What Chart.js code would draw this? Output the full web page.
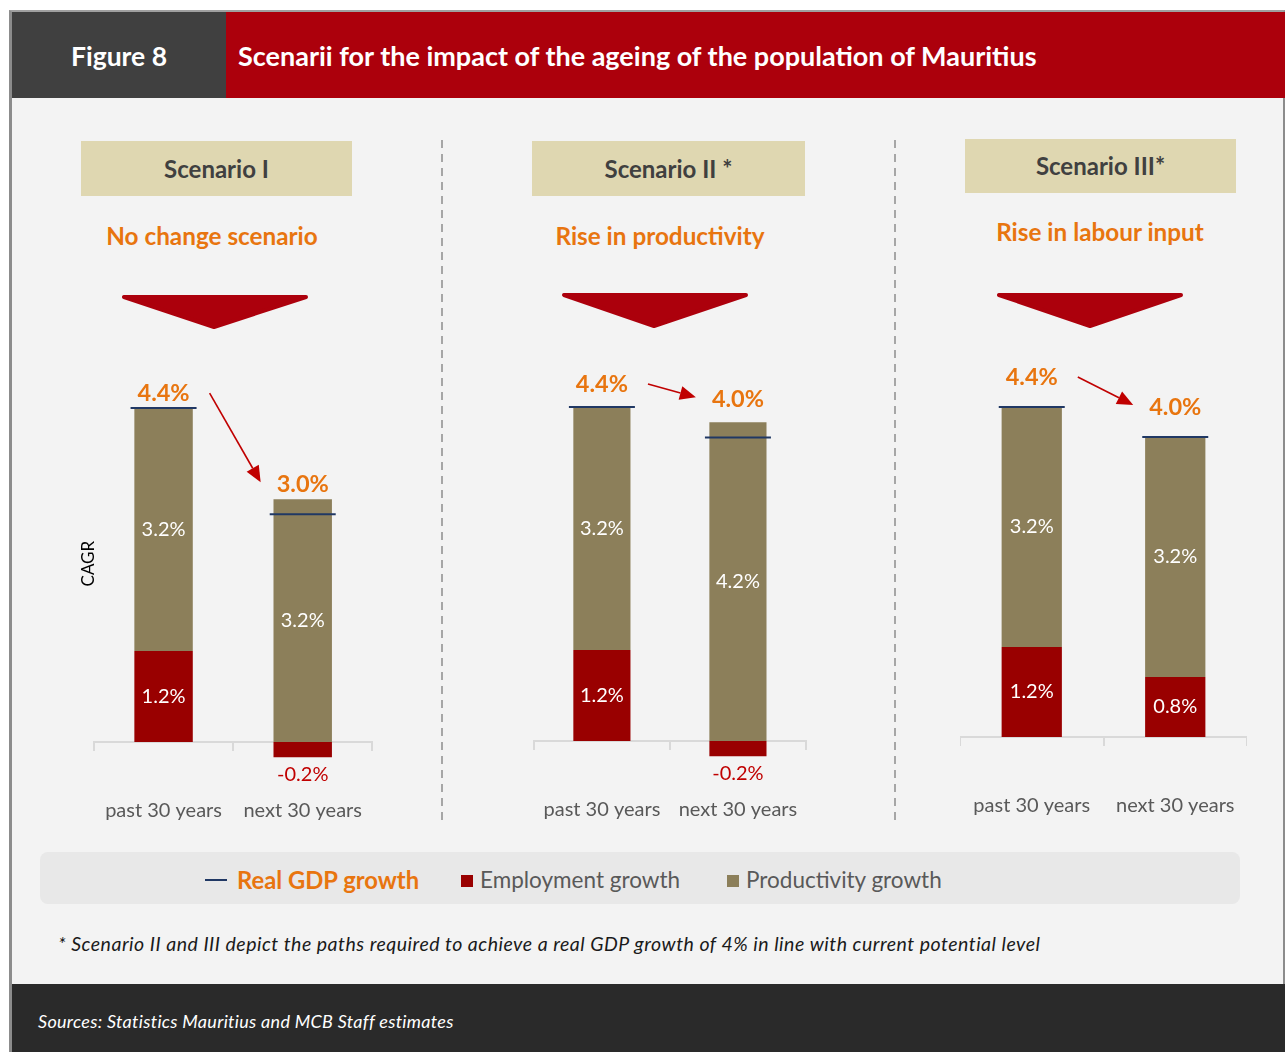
<!DOCTYPE html>
<html>
<head>
<meta charset="utf-8">
<script src="https://cdn.jsdelivr.net/npm/chart.js@4.4.0/dist/chart.umd.min.js"></script>
<style>
  body { margin: 0; background: #fff; font-family: Lato, "Open Sans", sans-serif; }
  .abs { position: absolute; }
  #frame { left: 9px; top: 10px; width: 1276px; height: 1042px; background: #f3f3f3;
    border-left: 3px solid #8c8c8c; border-top: 2px solid #a0a0a0; border-right: 2px solid #8c8c8c; box-sizing: border-box; }
  #figNo { left: 12px; top: 12px; width: 214px; height: 86px; background: #404040; color: #fff;
    font-weight: bold; font-size: 26.5px; line-height: 88px; text-align: center; }
  #figTitle { left: 226px; top: 12px; width: 1059px; height: 86px; background: #ac000c; color: #fff;
    font-weight: bold; font-size: 27px; line-height: 88px; padding-left: 12px; box-sizing: border-box; white-space: nowrap; }
  .scBox { background: #dfd7b1; color: #404040; font-weight: bold; font-size: 24px; text-align: center; }
  .scSub { color: #e8750f; font-weight: bold; font-size: 24.3px; text-align: center; width: 400px; }
  .chartBox { top: 330px; height: 510px; }
  #legend { left: 40px; top: 852px; width: 1200px; height: 52px; background: #e8e8e8; border-radius: 8px; }
  .lg { position: absolute; top: 0; line-height: 56px; white-space: nowrap; }
  #note { left: 58px; top: 932px; font-style: italic; font-size: 19.5px; letter-spacing: 0.5px; color: #1a1a1a; white-space: nowrap; }
  #footer { left: 12px; top: 984px; width: 1273px; height: 68px; background: #2a2a2a; }
  #source { position: absolute; left: 26px; top: 0; line-height: 74px; color: #fff; font-style: italic; font-size: 18px; letter-spacing: 0.3px; white-space: nowrap; }
</style>
</head>
<body>
<div id="frame" class="abs"></div>
<div id="figNo" class="abs">Figure 8</div>
<div id="figTitle" class="abs">Scenarii for the impact of the ageing of the population of Mauritius</div>

<svg class="abs" style="left:0;top:0" width="1285" height="1052">
  <g stroke="#a6a6a6" stroke-width="2" stroke-dasharray="8 6">
    <line x1="442" y1="140" x2="442" y2="822"/>
    <line x1="895" y1="140" x2="895" y2="822"/>
  </g>
  <g fill="#ac000c" stroke="#ac000c" stroke-width="4" stroke-linejoin="round">
    <polygon points="124,297 306,297 214,327"/>
    <polygon points="564,295 746,295 654,326"/>
    <polygon points="999,295 1181,295 1090,326"/>
  </g>
</svg>

<div id="panels"></div>

<div id="legend" class="abs">
  <div class="lg" style="left:165px;top:27px;width:22px;height:2px;background:#203864"></div>
  <div class="lg" style="left:197px;color:#e8750f;font-weight:bold;font-size:23.8px">Real GDP growth</div>
  <div class="lg" style="left:421px;top:23px;width:12px;height:12px;background:#990000"></div>
  <div class="lg" style="left:440px;color:#595959;font-size:22.5px">Employment growth</div>
  <div class="lg" style="left:687px;top:23px;width:12px;height:12px;background:#8c7f5a"></div>
  <div class="lg" style="left:706px;color:#595959;font-size:22.5px">Productivity growth</div>
</div>

<div id="note" class="abs">* Scenario II and III depict the paths required to achieve a real GDP growth of 4% in line with current potential level</div>
<div id="footer" class="abs"><div id="source">Sources: Statistics Mauritius and MCB Staff estimates</div></div>

<script>
// ---- data ----
const categories = ["past 30 years", "next 30 years"];
const scenarioTitles = ["Scenario I", "Scenario II *", "Scenario III*"];
const scenarioSubtitles = ["No change scenario", "Rise in productivity", "Rise in labour input"];
const employmentGrowth = [[1.2, -0.2], [1.2, -0.2], [1.2, 0.8]];
const productivityGrowth = [[3.2, 3.2], [3.2, 4.2], [3.2, 3.2]];
const realGdpGrowth = [[4.4, 3.0], [4.4, 4.0], [4.4, 4.0]];

// ---- layout of the three panels (page pixels) ----
const panelLayout = [
  { left: 80, width: 293, padTop: 32.5, padBottom: 75.2, yTitle: true, lift: 15,
    box: [81, 141, 271, 55], sub: [212, 236] },
  { left: 533, width: 275, padTop: 31.5, padBottom: 76.2, yTitle: false, lift: 23,
    box: [532, 141, 273, 55], sub: [660, 236] },
  { left: 960, width: 287, padTop: 32, padBottom: 80.5, yTitle: false, lift: 30,
    box: [965, 139, 271, 54], sub: [1100, 232] }
];

Chart.defaults.font.family = "Lato";

const fmt = (v) => v.toFixed(1) + "%";

const valueLabels = {
  id: "valueLabels",
  afterDatasetsDraw(chart, args, opts) {
    const ctx = chart.ctx;
    const sets = chart.data.datasets;
    const barIdx = sets.map((d, i) => i).filter((i) => sets[i].type !== "line");
    ctx.save();
    ctx.textAlign = "center";
    ctx.textBaseline = "middle";
    ctx.font = "20px Lato";
    barIdx.forEach((i) => {
      chart.getDatasetMeta(i).data.forEach((bar, j) => {
        const v = sets[i].data[j];
        if (v >= 0) {
          ctx.fillStyle = "#ffffff";
          ctx.fillText(fmt(v), bar.x, (bar.y + bar.base) / 2);
        } else {
          ctx.fillStyle = "#c00000";
          ctx.fillText(fmt(v), bar.x, Math.max(bar.y, bar.base) + 17);
        }
      });
    });

    // GDP figures above each stack
    const gdpSet = sets.find((d) => d.type === "line");
    ctx.font = "bold 23.5px Lato";
    ctx.fillStyle = "#e8750f";
    const pos = gdpSet.data.map((v, j) => {
      const top = Math.min(...barIdx.map((i) => chart.getDatasetMeta(i).data[j].y));
      const x = chart.getDatasetMeta(barIdx[0]).data[j].x;
      const y = top - opts.lift;
      ctx.fillText(fmt(v), x, y);
      return { x, y, w: ctx.measureText(fmt(v)).width };
    });

    // red arrow from the past figure to the next one
    const x0 = pos[0].x + pos[0].w / 2 + 20, y0 = pos[0].y;
    const x1 = pos[1].x - pos[1].w / 2 - 16, y1 = pos[1].y - 2;
    const a = Math.atan2(y1 - y0, x1 - x0);
    const head = 16, half = 7;
    ctx.strokeStyle = "#c00000";
    ctx.fillStyle = "#c00000";
    ctx.lineWidth = 1.6;
    ctx.beginPath();
    ctx.moveTo(x0, y0);
    ctx.lineTo(x1 - Math.cos(a) * head, y1 - Math.sin(a) * head);
    ctx.stroke();
    ctx.beginPath();
    ctx.moveTo(x1, y1);
    ctx.lineTo(x1 - Math.cos(a) * head - Math.sin(a) * half, y1 - Math.sin(a) * head + Math.cos(a) * half);
    ctx.lineTo(x1 - Math.cos(a) * head + Math.sin(a) * half, y1 - Math.sin(a) * head - Math.cos(a) * half);
    ctx.closePath();
    ctx.fill();
    ctx.restore();
  }
};

const holder = document.getElementById("panels");

panelLayout.forEach((p, k) => {
  const box = document.createElement("div");
  box.className = "abs scBox";
  box.style.cssText = `left:${p.box[0]}px;top:${p.box[1]}px;width:${p.box[2]}px;height:${p.box[3]}px;line-height:${p.box[3]}px`;
  box.textContent = scenarioTitles[k];
  holder.appendChild(box);

  const sub = document.createElement("div");
  sub.className = "abs scSub";
  sub.style.cssText = `left:${p.sub[0] - 200}px;top:${p.sub[1] - 15}px;line-height:30px`;
  sub.textContent = scenarioSubtitles[k];
  holder.appendChild(sub);

  const wrap = document.createElement("div");
  wrap.className = "abs chartBox";
  wrap.style.left = p.left + "px";
  wrap.style.width = p.width + "px";
  const canvas = document.createElement("canvas");
  wrap.appendChild(canvas);
  holder.appendChild(wrap);

  new Chart(canvas, {
    type: "bar",
    data: {
      labels: categories,
      datasets: [
        {
          type: "line",
          label: "Real GDP growth",
          data: realGdpGrowth[k],
          stack: "gdp",
          order: 0,
          showLine: false,
          pointStyle: "line",
          pointRadius: 33,
          pointHoverRadius: 33,
          pointBorderWidth: 2,
          pointBorderColor: "#203864",
          borderColor: "#203864",
          clip: false
        },
        {
          label: "Employment growth",
          data: employmentGrowth[k],
          backgroundColor: "#990000",
          stack: "s",
          order: 1
        },
        {
          label: "Productivity growth",
          data: productivityGrowth[k],
          backgroundColor: "#8c7f5a",
          stack: "s",
          order: 1
        }
      ]
    },
    options: {
      responsive: true,
      maintainAspectRatio: false,
      animation: false,
      barPercentage: 0.42,
      categoryPercentage: 1.0,
      layout: { autoPadding: false, padding: { top: p.padTop, bottom: p.padBottom, left: 0, right: 0 } },
      scales: {
        x: {
          position: { y: 0 },
          offset: true,
          grid: { display: true, offset: true, drawOnChartArea: false, drawTicks: true, tickLength: 8, color: "#d9d9d9", lineWidth: 2 },
          border: { display: true, color: "#d9d9d9", width: 2 },
          // tall line height pushes the labels down without widening the axis padding
          ticks: { color: "#595959", font: { size: 20, lineHeight: "100px" }, padding: 11, maxRotation: 0, minRotation: 0, autoSkip: false }
        },
        y: {
          stacked: true,
          min: -0.3,
          max: 5.0,
          display: p.yTitle,
          grid: { display: false, drawTicks: false },
          border: { display: false },
          ticks: { display: false },
          title: { display: p.yTitle, text: "CAGR", color: "#000", font: { size: 17, lineHeight: 1 }, padding: { top: 0, bottom: -3 } }
        }
      },
      plugins: {
        legend: { display: false },
        tooltip: { enabled: false },
        valueLabels: { lift: p.lift }
      }
    },
    plugins: [valueLabels]
  });
});
</script>
</body>
</html>
